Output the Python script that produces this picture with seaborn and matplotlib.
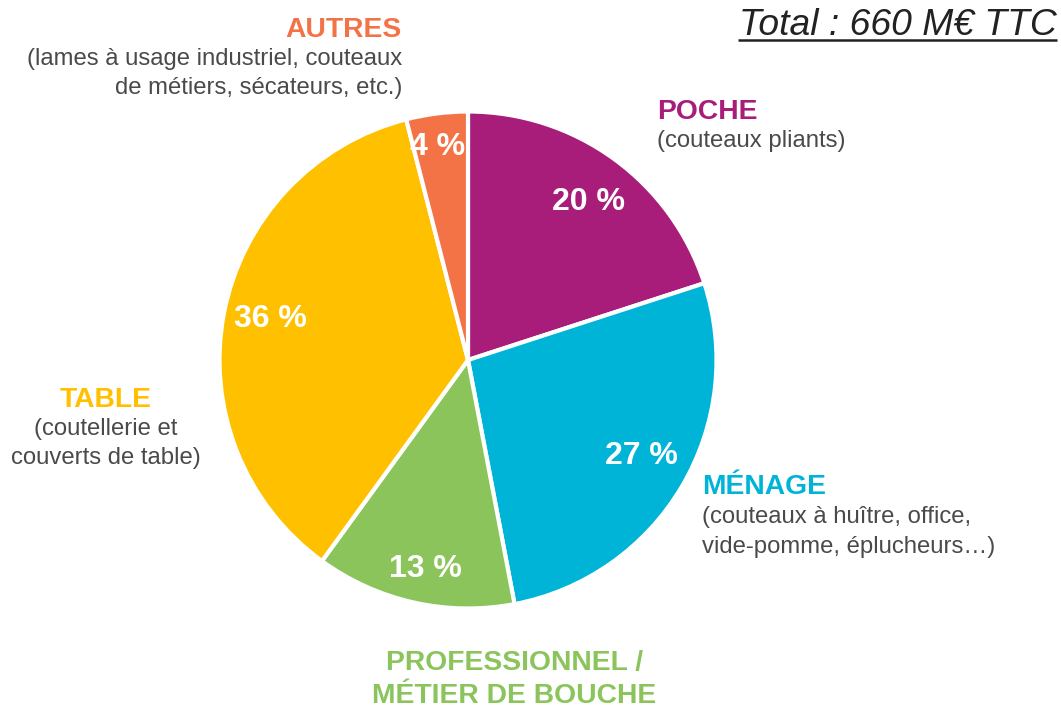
import numpy as np
import matplotlib
matplotlib.use("Agg")
import matplotlib.pyplot as plt
import seaborn as sns

# Market shares by knife segment (percent of total sales)
segments = ["POCHE", "MÉNAGE", "PROFESSIONNEL / MÉTIER DE BOUCHE", "TABLE", "AUTRES"]
shares = [20, 27, 13, 36, 4]
colors = ["#A91D7A", "#00B4D8", "#8BC45B", "#FFC000", "#F37347"]
title_text = "Total : 660 M€ TTC"

sns.set_theme(style="white")
plt.rcParams["font.family"] = ["Liberation Sans", "DejaVu Sans"]

W, H = 1061, 709
fig = plt.figure(figsize=(W / 100, H / 100), dpi=100)
ax = fig.add_axes([0, 0, 1, 1])

cx, cy, r = 468, H - 360, 248.5

wedges, texts, autotexts = ax.pie(
    shares,
    colors=colors,
    startangle=90,
    counterclock=False,
    center=(cx, cy),
    radius=r,
    autopct=lambda p: f"{p:.0f} %",
    pctdistance=0.82,
    wedgeprops=dict(edgecolor="white", linewidth=3),
    textprops=dict(color="white", fontsize=23, fontweight="bold"),
    frame=True,
)
ax.set_xlim(0, W)
ax.set_ylim(0, H)
ax.set_aspect("auto")
ax.axis("off")

# percentage labels: radial distance and angular nudge from each wedge's middle
label_dist = [0.81, 0.79, 0.847, 0.817, 0.88]
label_nudge = [-0.7, 2.6, 0.8, -1.9, 0.7]
cap_half = 23 * 100 / 72 * 0.716 / 2
for w, t, d, dn in zip(wedges, autotexts, label_dist, label_nudge):
    mid = np.deg2rad((w.theta1 + w.theta2) / 2 + dn)
    t.set_position((cx + d * r * np.cos(mid), cy + d * r * np.sin(mid) - cap_half))
    t.set_va("baseline")
    t.set_ha("center")

grey = "#4A4A4A"
head = 20.3
sub = 17.2


def block(x, baselines, lines, color, ha):
    ax.text(x, H - baselines[0], lines[0], color=color, fontsize=head,
            fontweight="bold", ha=ha, va="baseline")
    for yy, t in zip(baselines[1:], lines[1:]):
        ax.text(x, H - yy, t, color=grey, fontsize=sub, ha=ha, va="baseline")


block(402, [37, 65, 94],
      ["AUTRES", "(lames à usage industriel, couteaux", "de métiers, sécateurs, etc.)"],
      colors[4], "right")
block(657, [119, 147], ["POCHE", "(couteaux pliants)"], colors[0], "left")
block(105.5, [407, 435, 464],
      ["TABLE", "(coutellerie et", "couverts de table)"], colors[3], "center")
block(702, [494, 523, 553],
      ["MÉNAGE", "(couteaux à huître, office,", "vide-pomme, éplucheurs…)"],
      colors[1], "left")
ax.text(514.5, H - 670, "PROFESSIONNEL /", color=colors[2], fontsize=head,
        fontweight="bold", ha="center", va="baseline")
ax.text(514.5, H - 703, "MÉTIER DE BOUCHE", color=colors[2], fontsize=head,
        fontweight="bold", ha="center", va="baseline")

title = ax.text(1057, H - 35, title_text, color="#222222", fontsize=26.8,
                fontstyle="italic", ha="right", va="baseline")

# underline the total
fig.canvas.draw()
bb = title.get_window_extent()
ax.plot([bb.x0 - 1, bb.x1], [H - 39.5, H - 39.5], color="#222222", linewidth=1.8,
        solid_capstyle="butt")

fig.savefig("out.png", dpi=100)
